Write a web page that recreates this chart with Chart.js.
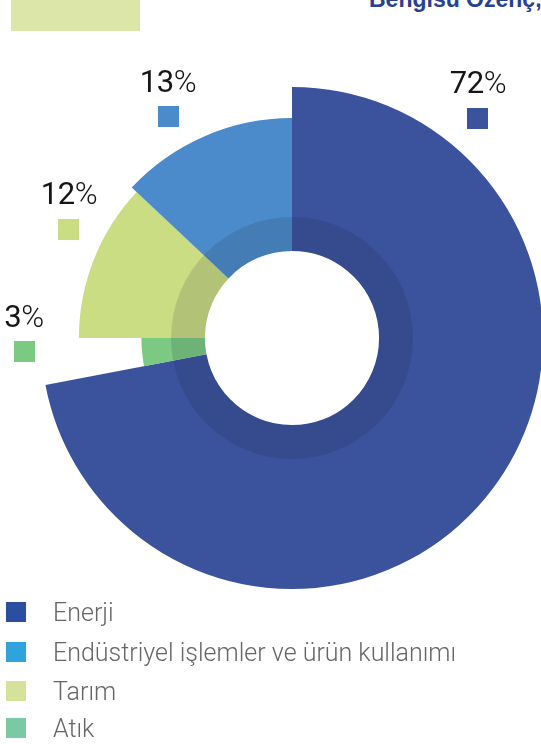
<!DOCTYPE html>
<html><head><meta charset="utf-8">
<script src="https://cdn.jsdelivr.net/npm/chart.js@4/dist/chart.umd.min.js"></script>
<style>
html,body{margin:0;padding:0;width:541px;height:744px;overflow:hidden;background:#fff;position:relative;font-family:Roboto,"DejaVu Sans",sans-serif}
#chart{position:absolute;left:0;top:0}
#band{position:absolute;left:11px;top:0;width:129px;height:31px;background:#dce6a8}
#title{position:absolute;left:369px;top:-12px;font-family:"Liberation Sans",Arial,sans-serif;font-size:23px;line-height:23px;font-weight:700;color:#27408f;white-space:nowrap}
.pct{position:absolute;font-size:31px;line-height:31px;color:#161616;white-space:nowrap;transform:translateX(-50%);letter-spacing:-0.5px}
.pct span{font-weight:300}
.sq{position:absolute;width:21px;height:21px}
.lg{position:absolute;left:6px;width:530px;height:24px}
.lg i{position:absolute;left:0;top:0;width:20px;height:20px}
.lg b{position:absolute;left:47px;top:-2px;font-weight:300;font-size:25px;line-height:25px;color:#666;white-space:nowrap}
</style></head>
<body>
<div id="band"></div>
<div id="title">Bengisu Özenç,</div>
<canvas id="chart" width="545" height="744" style="width:545px;height:744px"></canvas>
<div id="labels"></div>
<div id="legend"></div>
<script>
// ---- data ----
const categories = ['Enerji', 'Endüstriyel işlemler ve ürün kullanımı', 'Tarım', 'Atık'];
const shares = [72, 13, 12, 3];
const sliceOrder = [0, 3, 2, 1]; // clockwise from 12 o'clock
// ---- styles ----
const sliceColors = ['#3b539c', '#4c8bcb', '#cbdd82', '#7bc982'];
const legendColors = ['#2a4fa0', '#2fa3dc', '#d5e39a', '#78c9a4'];
const radiusScale = [1, 0.876, 0.849, 0.60];
const innerScale = 0.347, ringScale = 0.482;
const labelPos = [[478, 67, 467, 108], [168, 66, 158, 106], [69, 178, 58, 219], [24, 301, 14, 341]];
const legendTop = [602, 642, 681, 718];

const radiusPlugin = {
  id: 'varRadius',
  afterDatasetsUpdate(chart) {
    const a = chart.chartArea;
    const maxR = Math.min(a.right - a.left, a.bottom - a.top) / 2;
    chart.getDatasetMeta(0).data.forEach((arc, k) => {
      arc.outerRadius = maxR * radiusScale[sliceOrder[k]];
      arc.innerRadius = maxR * innerScale;
    });
    chart.getDatasetMeta(1).data.forEach(arc => {
      arc.outerRadius = maxR * ringScale;
      arc.innerRadius = maxR * innerScale;
    });
  }
};

new Chart(document.getElementById('chart'), {
  type: 'doughnut',
  data: {
    labels: sliceOrder.map(i => categories[i]),
    datasets: [
      { data: sliceOrder.map(i => shares[i]), backgroundColor: sliceOrder.map(i => sliceColors[i]), borderWidth: 0, order: 1 },
      { data: [1], backgroundColor: 'rgba(15,25,45,0.13)', borderWidth: 0, order: 0 }
    ]
  },
  options: {
    responsive: false, animation: false, events: [],
    cutout: 87,
    layout: { padding: { left: 41, right: 2, top: 87, bottom: 155 } },
    plugins: { legend: { display: false }, tooltip: { enabled: false } }
  },
  plugins: [radiusPlugin]
});

const labels = document.getElementById('labels');
categories.forEach((c, i) => {
  const p = labelPos[i];
  const t = document.createElement('div');
  t.className = 'pct';
  t.style.left = p[0] + 'px'; t.style.top = p[1] + 'px';
  t.innerHTML = shares[i] + '<span>%</span>';
  labels.appendChild(t);
  const s = document.createElement('div');
  s.className = 'sq';
  s.style.left = p[2] + 'px'; s.style.top = p[3] + 'px';
  s.style.background = sliceColors[i];
  labels.appendChild(s);
});
const legend = document.getElementById('legend');
categories.forEach((c, i) => {
  const d = document.createElement('div');
  d.className = 'lg';
  d.style.top = legendTop[i] + 'px';
  d.innerHTML = '<i style="background:' + legendColors[i] + '"></i><b>' + c + '</b>';
  legend.appendChild(d);
});
</script>
</body></html>
